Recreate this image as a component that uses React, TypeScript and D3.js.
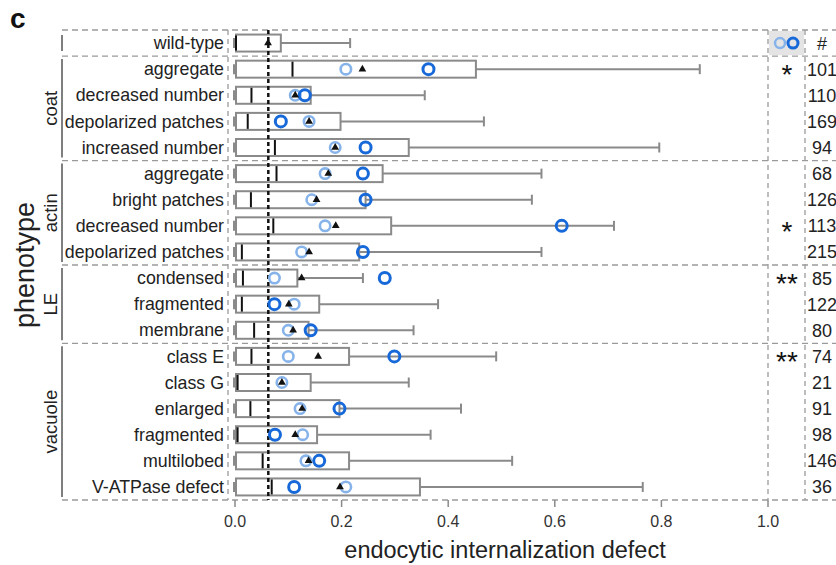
import React from "react";
import * as d3 from "d3";

// rows, top to bottom
const rowLabels = [
  "wild-type",
  "aggregate", "decreased number", "depolarized patches", "increased number",
  "aggregate", "bright patches", "decreased number", "depolarized patches",
  "condensed", "fragmented", "membrane",
  "class E", "class G", "enlarged", "fragmented", "multilobed", "V-ATPase defect",
];
const groupNames = ["coat", "actin", "LE", "vacuole"];
const groupStart = [1, 5, 9, 12];
const groupEnd = [4, 8, 11, 17];

const medians = [0.0, 0.106, 0.029, 0.022, 0.073, 0.076, 0.028, 0.07, 0.011, 0.013, 0.011, 0.034, 0.029, 0.003, 0.027, 0.003, 0.05, 0.067];
const upperQuartiles = [0.086, 0.452, 0.142, 0.198, 0.326, 0.277, 0.245, 0.293, 0.233, 0.117, 0.158, 0.138, 0.214, 0.142, 0.196, 0.154, 0.214, 0.347];
const upperWhiskers = [0.216, 0.872, 0.356, 0.467, 0.796, 0.575, 0.557, 0.711, 0.575, 0.24, 0.381, 0.335, 0.49, 0.326, 0.424, 0.367, 0.52, 0.765];
const means = [0.062, 0.239, 0.113, 0.139, 0.188, 0.175, 0.153, 0.189, 0.139, 0.125, 0.101, 0.109, 0.156, 0.088, 0.126, 0.113, 0.138, 0.197];
const lightValues = [null, 0.208, 0.113, 0.139, 0.188, 0.169, 0.144, 0.169, 0.125, 0.074, 0.111, 0.1, 0.1, 0.088, 0.122, 0.127, 0.133, 0.208];
const darkValues = [null, 0.363, 0.131, 0.086, 0.245, 0.24, 0.245, 0.613, 0.24, 0.281, 0.074, 0.142, 0.299, null, 0.196, 0.075, 0.158, 0.111];
const counts = ["#", "101", "110", "169", "94", "68", "126", "113", "215", "85", "122", "80", "74", "21", "91", "98", "146", "36"];
const stars = ["", "*", "", "", "", "", "", "*", "", "**", "", "", "**", "", "", "", "", ""];
const wildTypeMedian = 0.0625;
const xTicks = [0, 0.2, 0.4, 0.6, 0.8, 1.0];

const W = 836;
const H = 565;
const top = 30;
const bottom = 500;
const font = "Liberation Sans, Arial, sans-serif";
const LIGHT = "#86b3ea";
const DARK = "#1769d9";
const BOXC = "#8a8a8a";
const DASH = "#9a9a9a";

export default function App() {
  const x = d3.scaleLinear().domain([0, 1]).range([235, 768]);
  const y = d3.scaleBand<number>().domain(d3.range(rowLabels.length)).range([top, bottom]);
  const bw = y.bandwidth();
  const cy = (i: number) => (y(i) as number) + bw / 2;
  const boxH = 17;
  const tri = d3.symbol(d3.symbolTriangle, 26)();
  const sepRows = [0, 4, 8, 11];

  return (
    <div style={{ position: "fixed", left: 0, top: 0 }}>
      <svg width={W} height={H} style={{ display: "block", background: "#fff" }} fontFamily={font}>
        <text x={10} y={28} fontSize={28} fontWeight="bold" fill="#111">c</text>

        {/* frame lines */}
        <line x1={62} x2={W} y1={top} y2={top} stroke={DASH} strokeWidth={1.3} strokeDasharray="6,4" />
        <line x1={62} x2={W} y1={bottom} y2={bottom} stroke={DASH} strokeWidth={1.3} strokeDasharray="6,4" />
        {sepRows.map((r) => {
          const yy = (y(r) as number) + bw;
          return <line key={r} x1={62} x2={W} y1={yy} y2={yy} stroke={DASH} strokeWidth={1.3} strokeDasharray="6,4" />;
        })}
        {[228, 768, 805].map((xx) => (
          <line key={xx} x1={xx} x2={xx} y1={top} y2={bottom} stroke={DASH} strokeWidth={1.3} strokeDasharray="5,4" />
        ))}

        {/* legend cell */}
        <rect x={769} y={top + 1} width={35} height={bw - 2} fill="#e4e4e4" />
        <circle cx={780} cy={cy(0)} r={5} fill="none" stroke={LIGHT} strokeWidth={2.5} />
        <circle cx={793} cy={cy(0)} r={5} fill="none" stroke={DARK} strokeWidth={3} />

        {/* group brackets */}
        <line x1={62} x2={62} y1={cy(0) - 8} y2={cy(0) + 8} stroke="#555" strokeWidth={1.5} />
        {groupNames.map((g, k) => {
          const y0 = (y(groupStart[k]) as number) + 3;
          const y1 = (y(groupEnd[k]) as number) + bw - 3;
          return (
            <g key={g}>
              <line x1={62} x2={62} y1={y0} y2={y1} stroke="#555" strokeWidth={1.5} />
              <text transform={`translate(57,${(y0 + y1) / 2}) rotate(-90)`} textAnchor="middle" fontSize={18.5} fill="#222">{g}</text>
            </g>
          );
        })}
        <text transform={`translate(34,265) rotate(-90)`} textAnchor="middle" fontSize={27} fill="#222">phenotype</text>

        {/* row labels */}
        {rowLabels.map((l, i) => (
          <text key={i} x={224} y={cy(i) + 6.2} textAnchor="end" fontSize={17.8} fill="#222">{l}</text>
        ))}

        {/* boxes */}
        {rowLabels.map((_, i) => {
          const c = cy(i);
          return (
            <g key={i}>
              <line x1={x(upperQuartiles[i])} x2={x(upperWhiskers[i])} y1={c} y2={c} stroke={BOXC} strokeWidth={2} />
              <line x1={x(upperWhiskers[i])} x2={x(upperWhiskers[i])} y1={c - 5} y2={c + 5} stroke={BOXC} strokeWidth={2} />
              <line x1={x(0) - 1} x2={x(0) - 1} y1={c - 5} y2={c + 5} stroke={BOXC} strokeWidth={2} />
              <rect x={x(0) + 1} y={c - boxH / 2} width={x(upperQuartiles[i]) - x(0) - 1} height={boxH} fill="#fff" stroke={BOXC} strokeWidth={2} />
              <line x1={x(medians[i]) + 1} x2={x(medians[i]) + 1} y1={c - boxH / 2 + 1} y2={c + boxH / 2 - 1} stroke="#111" strokeWidth={2} />
            </g>
          );
        })}

        {/* wild-type median reference */}
        <line x1={x(wildTypeMedian)} x2={x(wildTypeMedian)} y1={top} y2={bottom} stroke="#111" strokeWidth={2.5} strokeDasharray="4,3" />

        {/* points */}
        {rowLabels.map((_, i) => {
          const c = cy(i);
          const lv = lightValues[i];
          const dv = darkValues[i];
          return (
            <g key={i}>
              {lv !== null && <circle cx={x(lv)} cy={c} r={5.2} fill="none" stroke={LIGHT} strokeWidth={2.6} />}
              {dv !== null && <circle cx={x(dv)} cy={c} r={5.5} fill="none" stroke={DARK} strokeWidth={3} />}
              <path d={tri as string} transform={`translate(${x(means[i])},${c})`} fill="#111" />
            </g>
          );
        })}

        {/* significance and counts */}
        {rowLabels.map((_, i) => (
          <g key={i}>
            {stars[i] && (
              <text x={787} y={cy(i) + 15} textAnchor="middle" fontSize={28} fill="#111">{stars[i]}</text>
            )}
            <text x={822} y={cy(i) + 6.5} textAnchor="middle" fontSize={18} fill="#222">{counts[i]}</text>
          </g>
        ))}

        {/* x axis */}
        {xTicks.map((t) => (
          <g key={t}>
            <line x1={x(t)} x2={x(t)} y1={bottom} y2={bottom + 7} stroke={BOXC} strokeWidth={1.5} />
            <text x={x(t)} y={527} textAnchor="middle" fontSize={16} fill="#333">{d3.format(".1f")(t)}</text>
          </g>
        ))}
        <text x={505} y={558} textAnchor="middle" fontSize={23.5} fill="#222">endocytic internalization defect</text>
      </svg>
    </div>
  );
}
